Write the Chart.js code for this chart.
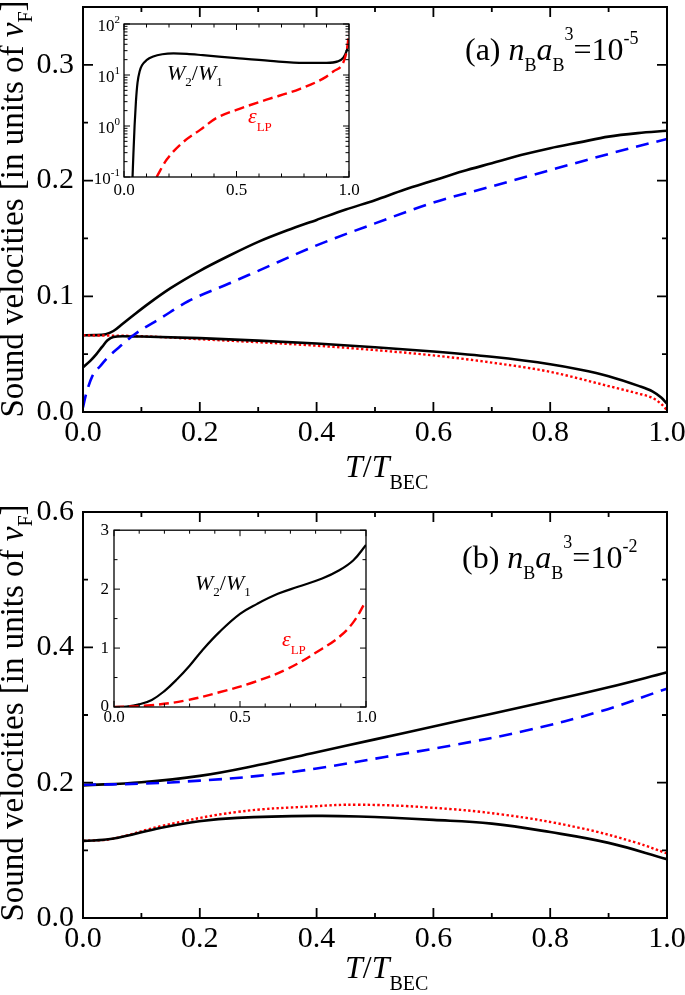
<!DOCTYPE html>
<html>
<head>
<meta charset="utf-8">
<title>Sound velocities vs T/T_BEC</title>
<script src="https://cdn.jsdelivr.net/npm/chart.js@4.4.1/dist/chart.umd.min.js"></script>
<style>
  html, body { margin: 0; padding: 0; background: #fff; }
  body { position: relative; width: 685px; height: 995px; overflow: hidden;
         font-family: "Liberation Serif", "Times New Roman", serif; color: #000; }
  canvas { position: absolute; }
  .txt { position: absolute; white-space: nowrap; line-height: 1; }
  .it { font-style: italic; }
  .rel { position: relative; }
  .ytitle { transform: translate(-50%, -50%) rotate(-90deg); }
  .red { color: #ff0000; }
</style>
</head>
<body>
<canvas id="mainA" width="725" height="500" style="left:0;top:-20px"></canvas>
<canvas id="insetA" width="290" height="200" style="left:84px;top:14px"></canvas>
<canvas id="mainB" width="725" height="510" style="left:0;top:485px"></canvas>
<canvas id="insetB" width="320" height="225" style="left:74px;top:515px"></canvas>

<!-- axis titles -->
<div class="txt ytitle" style="left:12px;top:209px;font-size:33px">Sound velocities [in units of <span class="it">v</span><span class="rel" style="font-size:20px;top:9px">F</span>]</div>
<div class="txt ytitle" style="left:12px;top:713px;font-size:33px">Sound velocities [in units of <span class="it">v</span><span class="rel" style="font-size:20px;top:9px">F</span>]</div>
<div class="txt" style="left:345px;top:450px;font-size:32px"><span class="it">T</span>/<span class="it">T</span><span class="rel" style="font-size:20px;top:12px">BEC</span></div>
<div class="txt" style="left:345px;top:951px;font-size:32px"><span class="it">T</span>/<span class="it">T</span><span class="rel" style="font-size:20px;top:12px">BEC</span></div>

<!-- panel labels -->
<div class="txt" style="left:465px;top:33px;font-size:32px">(a) <span class="it">n</span><span class="rel" style="font-size:18px;top:11px">B</span><span class="it">a</span><span class="rel" style="font-size:18px;top:11px">B</span><span class="rel" style="font-size:18px;top:-20px">3</span>=10<span class="rel" style="font-size:18px;top:-16px">-5</span></div>
<div class="txt" style="left:462px;top:541px;font-size:32px">(b) <span class="it">n</span><span class="rel" style="font-size:18px;top:11px">B</span><span class="it">a</span><span class="rel" style="font-size:18px;top:11px">B</span><span class="rel" style="font-size:18px;top:-20px">3</span>=10<span class="rel" style="font-size:18px;top:-16px">-2</span></div>

<!-- inset labels -->
<div class="txt it" style="left:167px;top:62px;font-size:22px">W<span class="rel" style="font-size:13px;top:6px;font-style:normal">2</span><span style="font-style:normal">/</span>W<span class="rel" style="font-size:13px;top:6px;font-style:normal">1</span></div>
<div class="txt red" style="left:248px;top:105px;font-size:22px"><span class="it">ε</span><span class="rel" style="font-size:13px;top:8px">LP</span></div>
<div class="txt it" style="left:195px;top:572px;font-size:22px">W<span class="rel" style="font-size:13px;top:6px;font-style:normal">2</span><span style="font-style:normal">/</span>W<span class="rel" style="font-size:13px;top:6px;font-style:normal">1</span></div>
<div class="txt red" style="left:282px;top:628px;font-size:22px"><span class="it">ε</span><span class="rel" style="font-size:13px;top:8px">LP</span></div>

<script>
// ---- panel (a): n_B a_B^3 = 1e-5 ----
const tA_hi  = [0, 0.02, 0.039, 0.052, 0.068, 0.088, 0.114, 0.15, 0.2, 0.25, 0.3, 0.35, 0.4, 0.45, 0.5, 0.55, 0.6, 0.65, 0.7, 0.75, 0.8, 0.85, 0.9, 0.95, 1.0];
const vA_hi  = [0.0663, 0.0664, 0.0672, 0.070, 0.0763, 0.0843, 0.0943, 0.107, 0.122, 0.135, 0.147, 0.157, 0.166, 0.175, 0.183, 0.192, 0.200, 0.208, 0.215, 0.222, 0.228, 0.233, 0.238, 0.241, 0.243];
const tA_lo  = [0, 0.012, 0.023, 0.033, 0.042, 0.052, 0.068, 0.1, 0.2, 0.3, 0.4, 0.5, 0.6, 0.7, 0.8, 0.85, 0.9, 0.95, 0.975, 0.99, 1.0];
const vA_lo  = [0.0386, 0.044, 0.050, 0.0565, 0.062, 0.0649, 0.0655, 0.0652, 0.0638, 0.0617, 0.0592, 0.0560, 0.0523, 0.0477, 0.0413, 0.0368, 0.031, 0.0228, 0.0178, 0.0125, 0.0072];
const tA_dash = [0, 0.005, 0.016, 0.03, 0.042, 0.068, 0.088, 0.134, 0.18, 0.25, 0.3, 0.4, 0.5, 0.6, 0.7, 0.8, 0.9, 1.0];
const vA_dash = [0.004, 0.015, 0.031, 0.040, 0.047, 0.0586, 0.067, 0.0814, 0.0957, 0.111, 0.122, 0.144, 0.163, 0.181, 0.195, 0.209, 0.223, 0.236];
const tA_dot = [0, 0.1, 0.2, 0.3, 0.4, 0.5, 0.6, 0.7, 0.8, 0.9, 0.95, 0.975, 0.99, 1.0];
const vA_dot = [0.0663, 0.0655, 0.0629, 0.0603, 0.0573, 0.0535, 0.0489, 0.0427, 0.0347, 0.0224, 0.0160, 0.0122, 0.007, 0.0017];

// inset (a), log scale
const tIA_w  = [0.038, 0.042, 0.047, 0.053, 0.06, 0.07, 0.08, 0.1, 0.13, 0.17, 0.22, 0.28, 0.35, 0.5, 0.65, 0.8, 0.9, 0.95, 0.975, 0.99, 1.0];
const vIA_w  = [0.1, 0.3, 1.0, 3.0, 7.0, 12, 15.5, 19.5, 23, 25.5, 26.5, 26, 24.5, 21.4, 18.9, 17.3, 17.3, 18.5, 22, 30, 45];
const tIA_e  = [0.145, 0.19, 0.26, 0.34, 0.41, 0.5, 0.63, 0.78, 0.9, 0.93, 0.973, 0.99, 1.0];
const vIA_e  = [0.1, 0.22, 0.47, 0.85, 1.43, 2.07, 3.25, 5.3, 9.3, 11.7, 17, 30, 66];

// ---- panel (b): n_B a_B^3 = 1e-2 ----
const tB_hi  = [0, 0.1, 0.2, 0.3, 0.4, 0.5, 0.6, 0.7, 0.8, 0.9, 1.0];
const vB_hi  = [0.196, 0.2005, 0.210, 0.226, 0.245, 0.264, 0.283, 0.302, 0.321, 0.341, 0.363];
const tB_dash = [0, 0.1, 0.2, 0.3, 0.4, 0.517, 0.631, 0.759, 0.888, 1.0];
const vB_dash = [0.197, 0.1985, 0.203, 0.210, 0.221, 0.238, 0.255, 0.277, 0.306, 0.339];
const tB_lo  = [0, 0.05, 0.134, 0.199, 0.264, 0.394, 0.472, 0.6, 0.7, 0.8, 0.9, 1.0];
const vB_lo  = [0.1139, 0.117, 0.1334, 0.143, 0.148, 0.1509, 0.150, 0.145, 0.1395, 0.127, 0.111, 0.087];
const tB_dot = [0, 0.05, 0.134, 0.264, 0.394, 0.472, 0.589, 0.719, 0.85, 0.947, 1.0];
const vB_dot = [0.1139, 0.117, 0.1358, 0.1567, 0.165, 0.1674, 0.1635, 0.1528, 0.1333, 0.1114, 0.0954];

// inset (b), linear scale
const tIB_w  = [0, 0.05, 0.1, 0.15, 0.2, 0.25, 0.3, 0.35, 0.418, 0.5, 0.568, 0.65, 0.73, 0.826, 0.894, 0.95, 1.0];
const vIB_w  = [0, 0.008, 0.045, 0.12, 0.27, 0.47, 0.70, 0.96, 1.27, 1.58, 1.75, 1.92, 2.04, 2.18, 2.32, 2.49, 2.75];
const tIB_e  = [0, 0.147, 0.283, 0.418, 0.554, 0.69, 0.826, 0.894, 0.95, 1.0];
const vIB_e  = [0, 0.03, 0.11, 0.25, 0.42, 0.65, 0.99, 1.19, 1.44, 1.8];

// tick values
const xMajorMain  = [0, 0.2, 0.4, 0.6, 0.8, 1.0];
const xMinorMain  = [0.1, 0.3, 0.5, 0.7, 0.9];
const yMajorA     = [0, 0.1, 0.2, 0.3];
const yMinorA     = [0.05, 0.15, 0.25];
const yMajorB     = [0, 0.2, 0.4, 0.6];
const yMinorB     = [0.1, 0.3, 0.5];
const xMajorInset = [0, 0.5, 1.0];
const xMinorInset = [0.1, 0.2, 0.3, 0.4, 0.6, 0.7, 0.8, 0.9];
const yMajorIA    = [0.1, 1, 10, 100];
const yMinorIA    = [0.2, 0.3, 0.4, 0.5, 0.6, 0.7, 0.8, 0.9, 2, 3, 4, 5, 6, 7, 8, 9, 20, 30, 40, 50, 60, 70, 80, 90];
const yMajorIB    = [0, 1, 2, 3];
const yMinorIB    = [0.5, 1.5, 2.5];

const FONT = '"Liberation Serif", "Times New Roman", serif';
const pts = (t, v) => t.map((x, i) => ({ x: x, y: v[i] }));

// frame box, inward ticks on all four sides, white inset background, log labels
const frameTicks = {
  id: 'frameTicks',
  beforeDraw(chart, args, o) {
    if (!o.white) return;
    const { ctx, chartArea: a } = chart;
    ctx.save();
    ctx.fillStyle = '#fff';
    ctx.fillRect(a.left, a.top, a.width, a.height);
    ctx.restore();
  },
  afterDatasetsDraw(chart, args, o) {
    const { ctx, chartArea: a, scales } = chart;
    const sx = scales.x, sy = scales.y;
    ctx.save();
    ctx.strokeStyle = '#000';
    ctx.lineWidth = o.tickWidth;
    ctx.beginPath();
    const xt = (vals, len) => vals.forEach(v => {
      const p = sx.getPixelForValue(v);
      ctx.moveTo(p, a.bottom); ctx.lineTo(p, a.bottom - len);
      ctx.moveTo(p, a.top); ctx.lineTo(p, a.top + len);
    });
    const yt = (vals, len) => vals.forEach(v => {
      const p = sy.getPixelForValue(v);
      ctx.moveTo(a.left, p); ctx.lineTo(a.left + len, p);
      ctx.moveTo(a.right, p); ctx.lineTo(a.right - len, p);
    });
    xt(o.xMajor, o.major); xt(o.xMinor, o.minor);
    yt(o.yMajor, o.major); yt(o.yMinor, o.minor);
    ctx.stroke();
    ctx.lineWidth = o.frameWidth;
    ctx.strokeRect(a.left, a.top, a.width, a.height);

    if (o.logLabels) {
      ctx.fillStyle = '#000';
      ctx.textBaseline = 'alphabetic';
      o.yMajor.forEach(v => {
        const p = sy.getPixelForValue(v);
        const ex = String(Math.round(Math.log10(v)));
        ctx.font = '11px ' + FONT;
        const we = ctx.measureText(ex).width;
        ctx.textAlign = 'right';
        ctx.fillText(ex, a.left - 4, p - 1);
        ctx.font = '17px ' + FONT;
        ctx.fillText('10', a.left - 4 - we, p + 7);
      });
    }
    ctx.restore();
  }
};

function makeChart(id, c) {
  return new Chart(document.getElementById(id), {
    type: 'line',
    data: { datasets: c.sets },
    options: {
      responsive: false,
      animation: false,
      events: [],
      layout: { padding: c.pad },
      elements: { point: { radius: 0 },
                  line: { cubicInterpolationMode: c.interp, tension: 0.4, borderCapStyle: 'butt', fill: false } },
      plugins: { legend: { display: false }, tooltip: { enabled: false }, frameTicks: c.frame },
      scales: {
        x: {
          type: 'linear', min: 0, max: 1,
          grid: { display: false, drawTicks: false }, border: { display: false },
          ticks: { color: '#000', font: { family: FONT, size: c.fs }, padding: c.xPad, maxRotation: 0,
                   callback: v => v.toFixed(1) },
          afterBuildTicks: s => { s.ticks = c.frame.xMajor.map(v => ({ value: v })); },
          afterFit: s => { s.height = c.xH; }
        },
        y: {
          type: c.yType, min: c.yMin, max: c.yMax,
          grid: { display: false, drawTicks: false }, border: { display: false },
          ticks: { display: c.yLabels, color: '#000', font: { family: FONT, size: c.fs }, padding: c.yPad,
                   callback: v => v.toFixed(c.yDec) },
          afterBuildTicks: s => { s.ticks = c.frame.yMajor.map(v => ({ value: v })); },
          afterFit: s => { s.width = c.yW; }
        }
      }
    },
    plugins: [frameTicks]
  });
}

const solid = (t, v, w) => ({ data: pts(t, v), borderColor: '#000', borderWidth: w });
const blueDash = (t, v) => ({ data: pts(t, v), borderColor: '#0000ff', borderWidth: 2.6, borderDash: [13, 8] });
const redDot = (t, v) => ({ data: pts(t, v), borderColor: '#ff0000', borderWidth: 2.4, borderDash: [2.4, 2.4] });
const redDash = (t, v) => ({ data: pts(t, v), borderColor: '#ff0000', borderWidth: 2.4, borderDash: [10, 5] });

makeChart('mainA', {
  sets: [blueDash(tA_dash, vA_dash), solid(tA_lo, vA_lo, 2.6), redDot(tA_dot, vA_dot), solid(tA_hi, vA_hi, 2.6)],
  pad: { top: 23, right: 58, left: 0, bottom: 0 }, interp: 'monotone',
  fs: 30, xPad: 3, yPad: 9, xH: 68, yW: 83,
  yType: 'linear', yMin: 0, yMax: 0.35, yLabels: true, yDec: 1,
  frame: { xMajor: xMajorMain, xMinor: xMinorMain, yMajor: yMajorA, yMinor: yMinorA,
           major: 10, minor: 5, tickWidth: 1.8, frameWidth: 2 }
});

makeChart('mainB', {
  sets: [blueDash(tB_dash, vB_dash), solid(tB_lo, vB_lo, 2.6), redDot(tB_dot, vB_dot), solid(tB_hi, vB_hi, 2.6)],
  pad: { top: 22, right: 58, left: 0, bottom: 0 }, interp: 'default',
  fs: 30, xPad: 3, yPad: 9, xH: 77, yW: 83,
  yType: 'linear', yMin: 0, yMax: 0.6, yLabels: true, yDec: 1,
  frame: { xMajor: xMajorMain, xMinor: xMinorMain, yMajor: yMajorB, yMinor: yMinorB,
           major: 10, minor: 5, tickWidth: 1.8, frameWidth: 2 }
});

makeChart('insetA', {
  sets: [redDash(tIA_e, vIA_e), solid(tIA_w, vIA_w, 2.2)],
  pad: { top: 10, right: 25, left: 0, bottom: 0 }, interp: 'monotone',
  fs: 17, xPad: 3, yPad: 4, xH: 37, yW: 40,
  yType: 'logarithmic', yMin: 0.1, yMax: 100, yLabels: false, yDec: 0,
  frame: { xMajor: xMajorInset, xMinor: xMinorInset, yMajor: yMajorIA, yMinor: yMinorIA,
           major: 6, minor: 3.5, tickWidth: 1, frameWidth: 1.3, white: true, logLabels: true }
});

makeChart('insetB', {
  sets: [redDash(tIB_e, vIB_e), solid(tIB_w, vIB_w, 2.2)],
  pad: { top: 15, right: 28, left: 0, bottom: 0 }, interp: 'default',
  fs: 17, xPad: 0, yPad: 5, xH: 33, yW: 40,
  yType: 'linear', yMin: 0, yMax: 3, yLabels: true, yDec: 0,
  frame: { xMajor: xMajorInset, xMinor: xMinorInset, yMajor: yMajorIB, yMinor: yMinorIB,
           major: 6, minor: 3.5, tickWidth: 1, frameWidth: 1.3, white: true }
});
</script>
</body>
</html>
